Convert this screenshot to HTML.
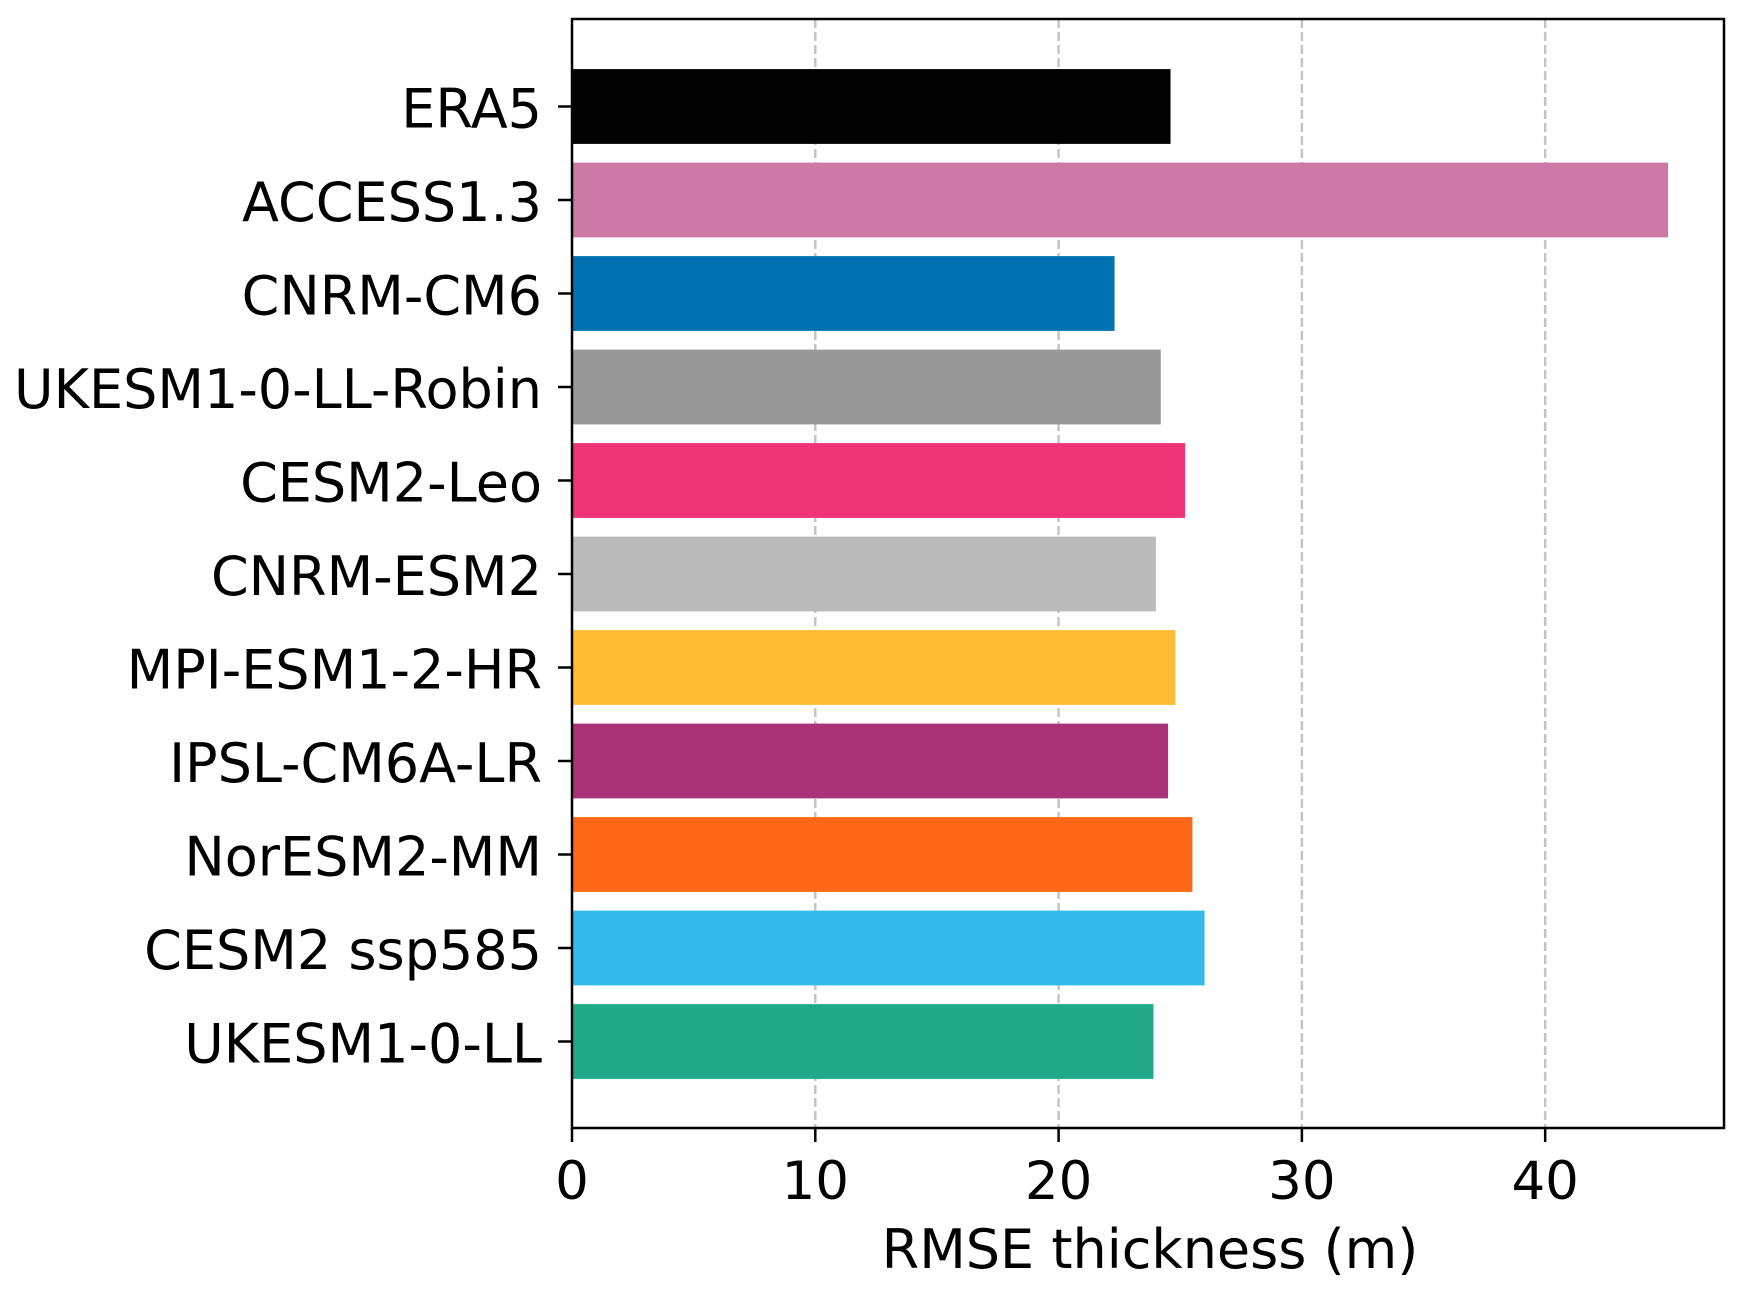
<!DOCTYPE html>
<html><head><meta charset="utf-8"><style>
html,body{margin:0;padding:0;background:#fff;}
svg text{font-family:"DejaVu Sans","Liberation Sans",sans-serif;fill:#000;}
</style></head><body>
<svg id="chart" width="1744" height="1291" viewBox="0 0 1744 1291" xmlns="http://www.w3.org/2000/svg">
<g id="grid"></g>
<g id="bars"></g>
<rect x="572" y="19" width="1152" height="1109" fill="none" stroke="#000" stroke-width="2.5"/>
<g id="yaxis"></g>
<g id="xaxis"></g>
<text x="1150" y="1268" font-size="54" text-anchor="middle">RMSE thickness (m)</text>
</svg>
<script>
const categories = ["ERA5","ACCESS1.3","CNRM-CM6","UKESM1-0-LL-Robin","CESM2-Leo","CNRM-ESM2","MPI-ESM1-2-HR","IPSL-CM6A-LR","NorESM2-MM","CESM2 ssp585","UKESM1-0-LL"];
const values = [24.6,45.05,22.3,24.2,25.2,24.0,24.8,24.5,25.5,26.0,23.9];
const colors = ["#000000","#cc79a7","#0072b2","#999999","#ee3377","#bbbbbb","#ffbb33","#aa3377","#ff6816","#33bbee","#22aa88"];
const xTicks = [0,10,20,30,40];
const NS="http://www.w3.org/2000/svg";
const L=572,R=1724,T=19,B=1128,xMax=47.35;
const xs=v=>L+v/xMax*(R-L);
const pitch=93.5, first=106.5, bh=0.8*pitch;
const ys=i=>first+i*pitch;
function mk(tag,attrs,parent){const e=document.createElementNS(NS,tag);for(const k in attrs)e.setAttribute(k,attrs[k]);document.getElementById(parent).appendChild(e);return e;}
xTicks.forEach(t=>{
  if(t>0){const g=mk('line',{x1:xs(t),x2:xs(t),y1:T,y2:B,stroke:'#c4c4c4','stroke-width':2.5,'stroke-dasharray':'9,4'},'grid');
  
  }
  const tk=mk('line',{x1:xs(t),x2:xs(t),y1:B,y2:B+14,stroke:'#000','stroke-width':2.5},'xaxis');
  
  
  const tl=mk('text',{x:xs(t),y:B+71,'font-size':53,'text-anchor':'middle'},'xaxis');
  tl.textContent=t;
  
  
});
categories.forEach((c,i)=>{
  const r=mk('rect',{x:L,y:ys(i)-bh/2,width:xs(values[i])-L,height:bh,fill:colors[i]},'bars');
  
  
  const tk=mk('line',{x1:L-14,x2:L,y1:ys(i),y2:ys(i),stroke:'#000','stroke-width':2.5},'yaxis');
  
  
  const tl=mk('text',{x:L-30,y:ys(i)+21,'font-size':54,'text-anchor':'end'},'yaxis');
  tl.textContent=c;
  
  
});
</script>
</body></html>
